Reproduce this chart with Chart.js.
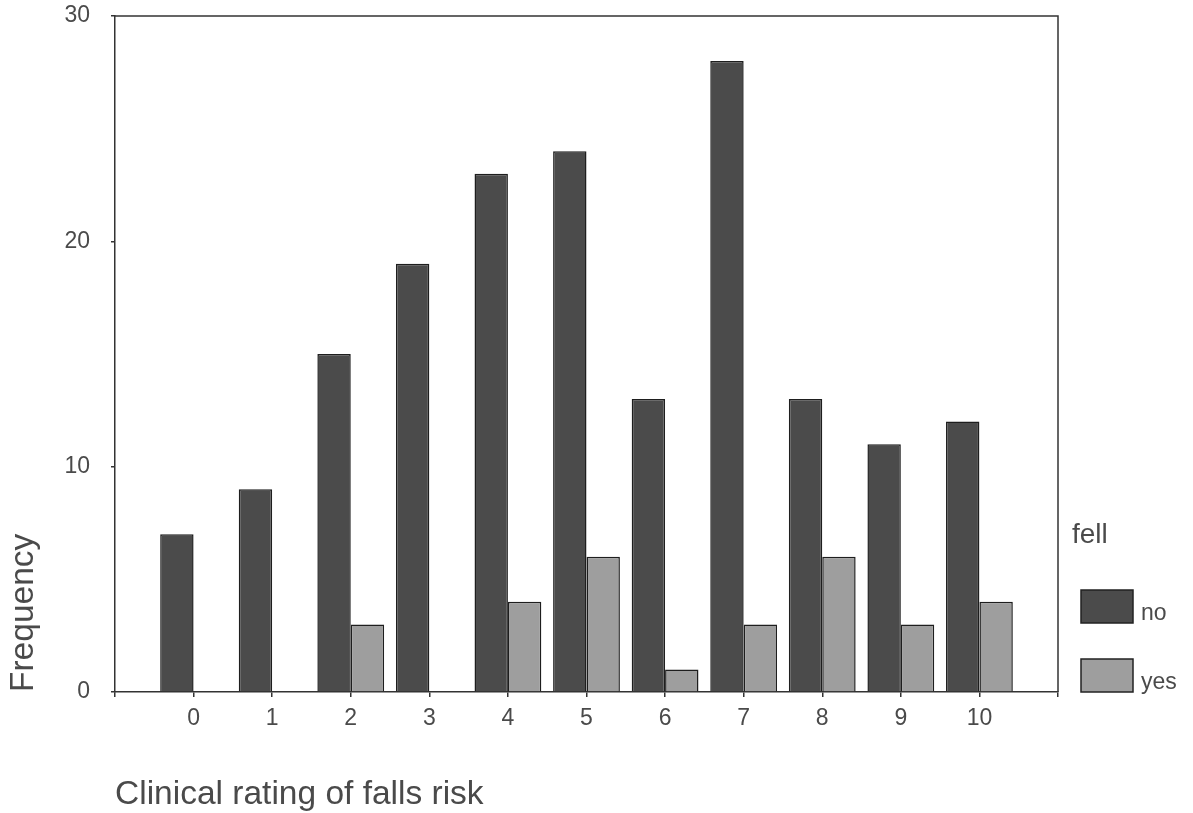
<!DOCTYPE html>
<html>
<head>
<meta charset="utf-8">
<script src="https://cdn.jsdelivr.net/npm/chart.js@4.4.1/dist/chart.umd.min.js"></script>
<style>
  html, body { margin: 0; padding: 0; background: #fff; }
  #wrap { width: 1193px; height: 813px; }
</style>
</head>
<body>
<div id="wrap"><canvas id="grafico"></canvas></div>
<script>
const categories = ['0', '1', '2', '3', '4', '5', '6', '7', '8', '9', '10'];
const fellNo = [7, 9, 15, 19, 23, 24, 13, 28, 13, 11, 12];
const fellYes = [0, 0, 3, 0, 4, 6, 1, 3, 6, 3, 4];
const yTicks = [0, 10, 20, 30];

// SPSS leaves a whole empty category slot at each end of the axis
const xLabels = ['', ...categories, ''];
const pad = arr => [null, ...arr, null];

const FONT = 'Liberation Sans, Arial, sans-serif';
const TEXT = '#4a4a4a';
const LINE = '#333333';

// top + right edges of the plot box
const frame = {
  id: 'frame',
  afterDatasetsDraw(chart) {
    const { ctx, chartArea: a } = chart;
    ctx.save();
    ctx.strokeStyle = LINE;
    ctx.lineWidth = 1.5;
    ctx.beginPath();
    ctx.moveTo(a.left, a.top);
    ctx.lineTo(a.right, a.top);
    ctx.lineTo(a.right, a.bottom);
    ctx.stroke();
    ctx.restore();
  }
};

// legend block at the lower right, like the original
const fellLegend = {
  id: 'fellLegend',
  afterDraw(chart) {
    const { ctx } = chart;
    ctx.save();
    ctx.fillStyle = TEXT;
    ctx.font = '28px ' + FONT;
    ctx.textBaseline = 'alphabetic';
    ctx.fillText('fell', 1072, 543);
    const rows = [590, 659];
    chart.data.datasets.forEach((ds, i) => {
      const y = rows[i];
      ctx.fillStyle = ds.backgroundColor;
      ctx.fillRect(1081, y, 52, 33);
      ctx.strokeStyle = '#222';
      ctx.lineWidth = 1.5;
      ctx.strokeRect(1081, y, 52, 33);
      ctx.fillStyle = TEXT;
      ctx.font = '23px ' + FONT;
      ctx.fillText(ds.label, 1141, y + 30);
    });
    ctx.restore();
  }
};

const Grafico = document.getElementById('grafico');
const chartData = {
  labels: xLabels,
  datasets: [
    {
      label: 'no',
      data: pad(fellNo),
      backgroundColor: '#4b4b4b',
      borderColor: '#1e1e1e',
      borderWidth: 1.5
    },
    {
      label: 'yes',
      data: pad(fellYes),
      backgroundColor: '#9e9e9e',
      borderColor: '#1e1e1e',
      borderWidth: 1.5
    }
  ]
};

const options = {
  responsive: true,
  maintainAspectRatio: false,
  animation: false,
  categoryPercentage: 0.85,
  barPercentage: 1.0,
  layout: { padding: { top: 0, right: 135, left: 0, bottom: 0 } },
  plugins: {
    legend: { display: false },
    tooltip: { enabled: false }
  },
  scales: {
    x: {
      offset: false,
      grid: { display: true, drawOnChartArea: false, offset: false, tickLength: 5, color: LINE, lineWidth: 1.5 },
      border: { display: true, color: LINE, width: 1.5 },
      ticks: { color: TEXT, font: { family: FONT, size: 23 }, padding: 8, maxRotation: 0, autoSkip: false },
      title: {
        display: true,
        text: 'Clinical rating of falls risk',
        align: 'start',
        color: TEXT,
        font: { family: FONT, size: 33.5, lineHeight: 1.1 },
        padding: { top: 0, bottom: 0 }
      },
      afterFit: s => { s.height = 121; }
    },
    y: {
      min: 0,
      max: 30,
      afterBuildTicks: s => { s.ticks = yTicks.map(v => ({ value: v })); },
      grid: { display: true, drawOnChartArea: false, tickLength: 4, color: LINE, lineWidth: 1.5 },
      border: { display: true, color: LINE, width: 1.5 },
      ticks: { color: TEXT, font: { family: FONT, size: 23 }, padding: 21 },
      title: {
        display: true,
        text: 'Frequency',
        align: 'start',
        color: TEXT,
        font: { family: FONT, size: 33.5, lineHeight: 1.2 },
        padding: { top: 4, bottom: 0 }
      },
      afterFit: s => { s.width = 115; s.paddingTop = 16; }
    }
  }
};

const myChart = new Chart(Grafico, {
  type: 'bar',
  data: chartData,
  options: options,
  plugins: [frame, fellLegend]
});
</script>
</body>
</html>
